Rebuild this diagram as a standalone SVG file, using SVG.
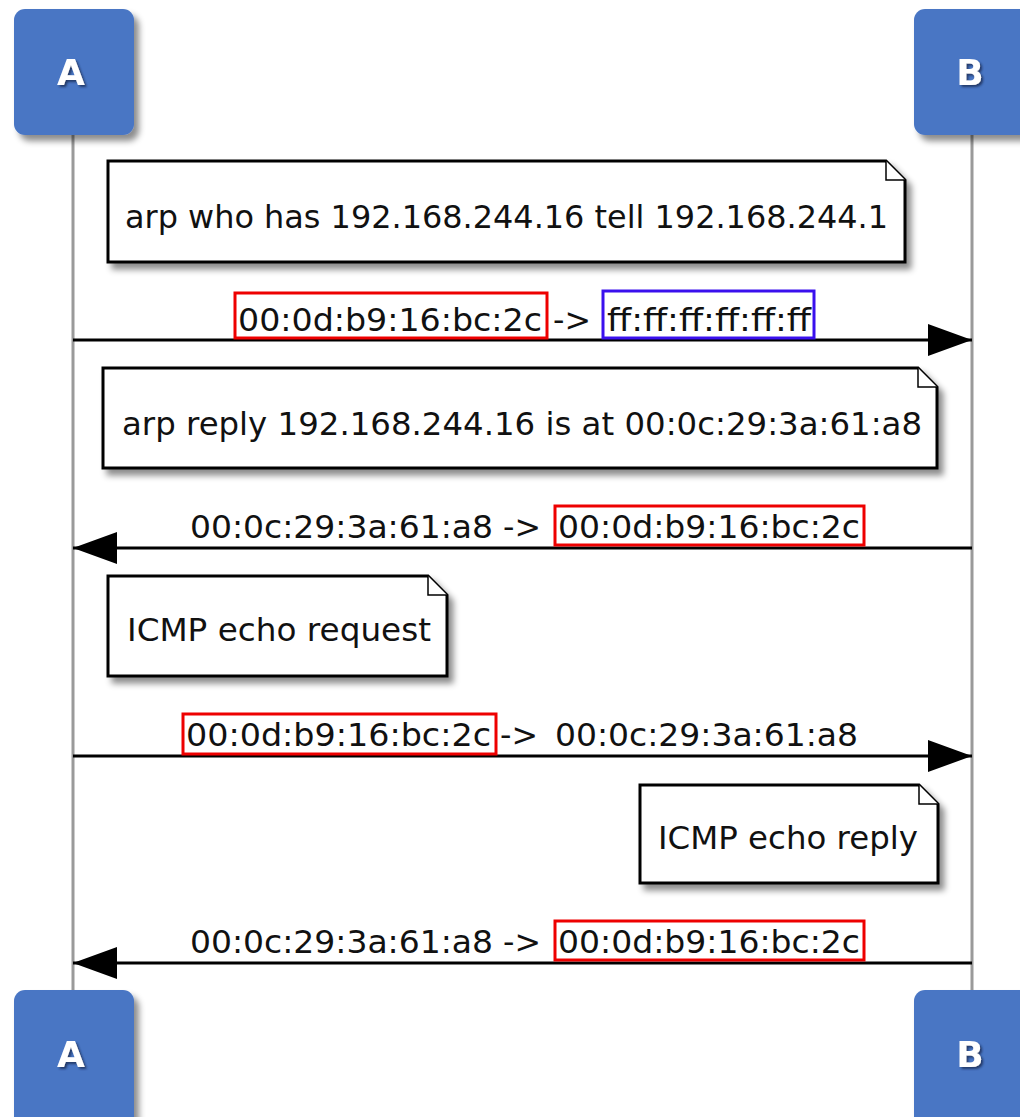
<svg xmlns="http://www.w3.org/2000/svg" width="1020" height="1117" viewBox="0 0 1020 1117">
  <defs>
    <filter id="shadow" x="-10%" y="-10%" width="130%" height="140%">
      <feDropShadow dx="5" dy="6" stdDeviation="3" flood-color="#000" flood-opacity="0.45"/>
    </filter>
    <filter id="txtshadow" x="-20%" y="-20%" width="150%" height="150%">
      <feDropShadow dx="2" dy="2" stdDeviation="1" flood-color="#1a2a55" flood-opacity="0.8"/>
    </filter>
    <marker id="head" viewBox="0 0 44 32" refX="44" refY="16" markerWidth="44" markerHeight="32" markerUnits="userSpaceOnUse" orient="auto">
      <path d="M0,0 L44,16 L0,32 Z" fill="#000"/>
    </marker>
  </defs>
  <style>
    .actor { fill: #4a76c4; filter: url(#shadow); }
    .actor-label { font-family: "DejaVu Sans", "Liberation Sans", sans-serif; font-weight: bold; font-size: 36px; fill: #fff; text-anchor: middle; filter: url(#txtshadow); }
    .lifeline { stroke: #9a9a9a; stroke-width: 3; }
    .note { fill: #fff; stroke: #000; stroke-width: 3; filter: url(#shadow); }
    .fold { fill: #fff; stroke: #000; stroke-width: 1.5; }
    .label { font-family: "DejaVu Sans", "Liberation Sans", sans-serif; font-size: 32px; fill: #111; }
    .msg { stroke: #000; stroke-width: 3; fill: none; marker-end: url(#head); }
    .hl-red { fill: none; stroke: #ee0000; stroke-width: 3; }
    .hl-blue { fill: none; stroke: #3a10ee; stroke-width: 3; }
  </style>

  <rect width="1020" height="1117" fill="#fff"/>

  <!-- lifelines -->
  <g id="lifelines">
    <line class="lifeline" x1="73" y1="130" x2="73" y2="995"/>
    <line class="lifeline" x1="972" y1="130" x2="972" y2="995"/>
  </g>

  <!-- participants -->
  <g id="actor-a-top">
    <rect class="actor" x="14" y="9" width="120" height="126" rx="11"/>
    <text class="actor-label" x="71" y="85">A</text>
  </g>
  <g id="actor-b-top">
    <rect class="actor" x="914" y="9" width="120" height="126" rx="11"/>
    <text class="actor-label" x="970" y="85">B</text>
  </g>
  <g id="actor-a-bottom">
    <rect class="actor" x="14" y="990" width="120" height="140" rx="11"/>
    <text class="actor-label" x="71" y="1067">A</text>
  </g>
  <g id="actor-b-bottom">
    <rect class="actor" x="914" y="990" width="120" height="140" rx="11"/>
    <text class="actor-label" x="970" y="1067">B</text>
  </g>

  <!-- notes -->
  <g id="note-arp-request">
    <path class="note" d="M108,161 H886 L905,180 V262 H108 Z"/>
    <path class="fold" d="M886,161 V180 H905"/>
    <text class="label" x="125" y="228" textLength="763" lengthAdjust="spacingAndGlyphs">arp who has 192.168.244.16 tell 192.168.244.1</text>
  </g>
  <g id="note-arp-reply">
    <path class="note" d="M103,368 H918 L937,387 V468 H103 Z"/>
    <path class="fold" d="M918,368 V387 H937"/>
    <text class="label" x="122" y="435" textLength="800" lengthAdjust="spacingAndGlyphs">arp reply 192.168.244.16 is at 00:0c:29:3a:61:a8</text>
  </g>
  <g id="note-icmp-request">
    <path class="note" d="M108,576 H428 L447,595 V676 H108 Z"/>
    <path class="fold" d="M428,576 V595 H447"/>
    <text class="label" x="127" y="641" textLength="304" lengthAdjust="spacingAndGlyphs">ICMP echo request</text>
  </g>
  <g id="note-icmp-reply">
    <path class="note" d="M640,785 H919 L938,804 V883 H640 Z"/>
    <path class="fold" d="M919,785 V804 H938"/>
    <text class="label" x="658" y="849" textLength="260" lengthAdjust="spacingAndGlyphs">ICMP echo reply</text>
  </g>

  <!-- messages -->
  <g id="connectors">
    <line class="msg" x1="73" y1="340" x2="972" y2="340"/>
    <line class="msg" x1="972" y1="548" x2="73" y2="548"/>
    <line class="msg" x1="73" y1="756" x2="972" y2="756"/>
    <line class="msg" x1="972" y1="963" x2="73" y2="963"/>
  </g>

  <g id="message-labels">
    <text class="label" y="331">
      <tspan x="238" textLength="304" lengthAdjust="spacingAndGlyphs">00:0d:b9:16:bc:2c</tspan>
      <tspan x="553" textLength="38" lengthAdjust="spacingAndGlyphs">-&gt;</tspan>
      <tspan x="607" textLength="204" lengthAdjust="spacingAndGlyphs">ff:ff:ff:ff:ff:ff</tspan>
    </text>
    <rect class="hl-red" x="235" y="293" width="312" height="45"/>
    <rect class="hl-blue" x="603" y="291" width="211" height="47"/>

    <text class="label" y="538">
      <tspan x="190" textLength="303" lengthAdjust="spacingAndGlyphs">00:0c:29:3a:61:a8</tspan>
      <tspan x="503" textLength="38" lengthAdjust="spacingAndGlyphs">-&gt;</tspan>
      <tspan x="558" textLength="302" lengthAdjust="spacingAndGlyphs">00:0d:b9:16:bc:2c</tspan>
    </text>
    <rect class="hl-red" x="555" y="506" width="309" height="39"/>

    <text class="label" y="746">
      <tspan x="186" textLength="305" lengthAdjust="spacingAndGlyphs">00:0d:b9:16:bc:2c</tspan>
      <tspan x="500" textLength="38" lengthAdjust="spacingAndGlyphs">-&gt;</tspan>
      <tspan x="555" textLength="303" lengthAdjust="spacingAndGlyphs">00:0c:29:3a:61:a8</tspan>
    </text>
    <rect class="hl-red" x="183" y="714" width="313" height="40"/>

    <text class="label" y="953">
      <tspan x="190" textLength="303" lengthAdjust="spacingAndGlyphs">00:0c:29:3a:61:a8</tspan>
      <tspan x="503" textLength="38" lengthAdjust="spacingAndGlyphs">-&gt;</tspan>
      <tspan x="558" textLength="302" lengthAdjust="spacingAndGlyphs">00:0d:b9:16:bc:2c</tspan>
    </text>
    <rect class="hl-red" x="555" y="921" width="309" height="39"/>
  </g>
</svg>
